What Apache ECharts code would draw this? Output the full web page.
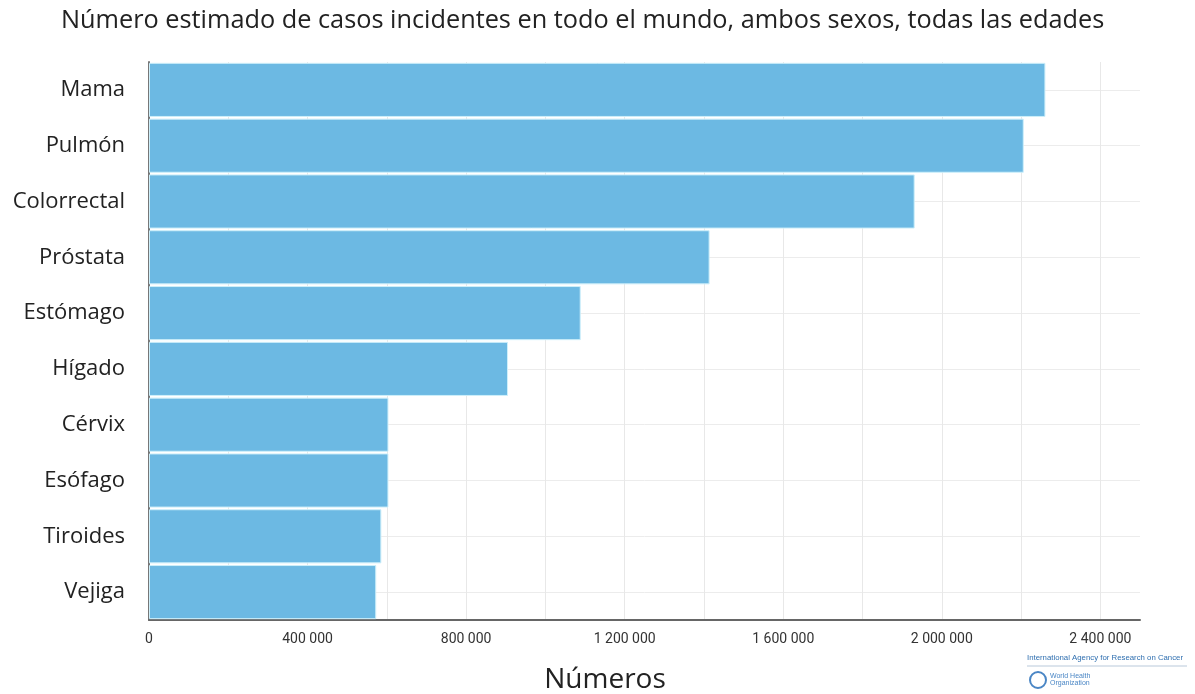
<!DOCTYPE html>
<html>
<head>
<meta charset="utf-8">
<script src="https://cdn.jsdelivr.net/npm/echarts@6/dist/echarts.min.js"></script>
<style>
  html, body { margin: 0; padding: 0; background: #fff; }
  #chart { width: 1195px; height: 694px; }
</style>
</head>
<body>
<div id="chart"></div>
<script>
// Cancer sites, listed top to bottom
const categories = ['Mama', 'Pulmón', 'Colorrectal', 'Próstata', 'Estómago', 'Hígado', 'Cérvix', 'Esófago', 'Tiroides', 'Vejiga'];
// Estimated new cases, same order as the sites
const casos = [2261419, 2206771, 1931590, 1414259, 1089103, 905677, 604127, 604100, 586202, 573278];

const titulo = 'Número estimado de casos incidentes en todo el mundo, ambos sexos, todas las edades';
const ejeX = 'Números';

const fmtMiles = v => String(v).replace(/\B(?=(\d{3})+(?!\d))/g, ' ');

const chart = echarts.init(document.getElementById('chart'), null, { renderer: 'canvas' });

chart.setOption({
  backgroundColor: '#ffffff',
  animation: false,
  title: {
    text: titulo,
    left: 56,
    top: 3,
    textStyle: { fontFamily: 'Open Sans', fontSize: 25.3, fontWeight: 'normal', color: '#222' }
  },
  grid: { left: 149, right: 55, top: 62, bottom: 74, containLabel: false },
  xAxis: {
    type: 'value',
    min: 0,
    max: 2500000,
    interval: 200000,
    axisLine: { show: true, lineStyle: { color: '#666', width: 2 } },
    axisTick: { show: false },
    axisLabel: {
      margin: 12,
      fontFamily: 'Liberation Sans Narrow, Roboto, sans-serif',
      fontSize: 14,
      color: '#333',
      showMaxLabel: false,
      formatter: v => (v % 400000 === 0 ? fmtMiles(v) : '')
    },
    splitLine: { show: true, showMaxLine: false, lineStyle: { color: '#e8e8e8', width: 1 } }
  },
  yAxis: {
    type: 'category',
    inverse: true,
    data: categories,
    axisLine: { show: true, lineStyle: { color: '#777', width: 2 } },
    axisTick: { show: false },
    axisLabel: { margin: 24, fontFamily: 'Open Sans', fontSize: 22, color: '#222' },
    splitLine: { show: true, alignWithLabel: true, lineStyle: { color: '#ececec', width: 1 } }
  },
  series: [{
    type: 'bar',
    data: casos,
    barCategoryGap: '3%',
    itemStyle: { color: '#6cb9e3', borderColor: '#cdeffa', borderWidth: 1 },
    z: 3
  }],
  graphic: [
    {
      type: 'text', x: 605, y: 680,
      style: { text: ejeX, fill: '#222', font: '28px "Open Sans"', align: 'center', verticalAlign: 'middle' }
    },
    {
      type: 'text', left: 1027, top: 654,
      style: { text: 'International Agency for Research on Cancer', fill: '#2f6fb0', font: '7.8px "Liberation Sans Narrow", sans-serif' }
    },
    {
      type: 'line', shape: { x1: 1027, y1: 666, x2: 1187, y2: 666 },
      style: { stroke: '#b9c9da', lineWidth: 1 }
    },
    {
      type: 'circle', shape: { cx: 1038, cy: 680, r: 8 },
      style: { fill: '#ffffff', stroke: '#4a86c5', lineWidth: 2 }
    },
    {
      type: 'text', left: 1050, top: 673,
      style: { text: 'World Health\nOrganization', fill: '#4a86c5', font: '7px "Liberation Sans", sans-serif', lineHeight: 7 }
    }
  ]
});
</script>
</body>
</html>
